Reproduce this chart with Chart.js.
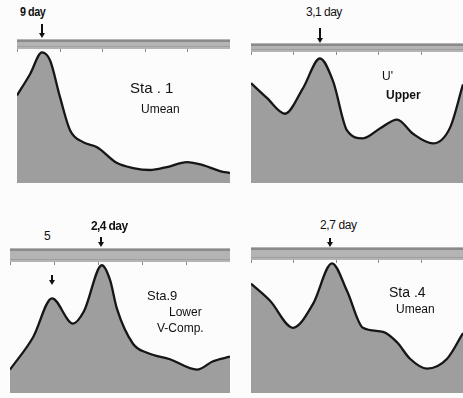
<!DOCTYPE html>
<html><head><meta charset="utf-8">
<script src="https://cdn.jsdelivr.net/npm/chart.js@4"></script>
<style>
html,body{margin:0;padding:0;background:#fcfcfc;width:463px;height:398px;overflow:hidden;position:relative;font-family:"Liberation Sans","DejaVu Sans",sans-serif;color:#111}
canvas{position:absolute}
.t{position:absolute;white-space:nowrap;line-height:1}
.ar{position:absolute;width:2px;background:#111}
.ar::after{content:"";position:absolute;left:-2px;bottom:-4px;border-left:3px solid transparent;border-right:3px solid transparent;border-top:5px solid #111}
</style></head><body>
<canvas id="c1" width="213" height="144" style="left:17px;top:39px"></canvas>
<canvas id="c2" width="212" height="140" style="left:251px;top:43px"></canvas>
<canvas id="c3" width="220" height="145" style="left:10px;top:248px"></canvas>
<canvas id="c4" width="212" height="146" style="left:251px;top:247px"></canvas>

<div class="t" style="left:20px;top:6px;font-size:12px;letter-spacing:-0.5px;font-weight:bold;transform:scaleX(0.9);transform-origin:left">9 day</div>
<div class="ar" style="left:41px;top:24px;height:10px"></div>
<div class="t" style="left:130px;top:80px;font-size:15px">Sta . 1</div>
<div class="t" style="left:141px;top:103px;font-size:12px">Umean</div>

<div class="t" style="left:306px;top:6px;font-size:12px;letter-spacing:-0.5px">3,1 day</div>
<div class="ar" style="left:319px;top:28px;height:11px"></div>
<div class="t" style="left:382px;top:70px;font-size:12px">U'</div>
<div class="t" style="left:386px;top:89px;font-size:12px;font-weight:bold">Upper</div>

<div class="t" style="left:44px;top:230px;font-size:12px">5</div>
<div class="ar" style="left:51px;top:275px;height:6px"></div>
<div class="t" style="left:91px;top:220px;font-size:12px;font-weight:bold;letter-spacing:-0.6px">2,4 day</div>
<div class="ar" style="left:100px;top:237px;height:6px"></div>
<div class="t" style="left:147px;top:289px;font-size:13px">Sta.9</div>
<div class="t" style="left:169px;top:306px;font-size:12px">Lower</div>
<div class="t" style="left:157px;top:322px;font-size:12px">V-Comp.</div>

<div class="t" style="left:320px;top:219px;font-size:12px;letter-spacing:-0.4px">2,7 day</div>
<div class="ar" style="left:329px;top:238px;height:5px"></div>
<div class="t" style="left:389px;top:285px;font-size:14px">Sta .4</div>
<div class="t" style="left:396px;top:303px;font-size:12px">Umean</div>

<script>
// Frequency axis (arbitrary units 0-100 across each panel) and spectral density (relative)
const freq1 = [0, 6.1, 11.7, 15.5, 20.2, 24.9, 31, 37.6, 47, 54.5, 62.4, 70.4, 79.8, 87.3, 95.3, 100];
const spec1 = [66, 82, 98.5, 92.5, 64.7, 39.8, 30.8, 27, 15, 11.3, 9.8, 12, 15.8, 13.5, 9, 7.5];

const freq2 = [0, 7.5, 16, 24.5, 32.5, 38.7, 45.3, 52.8, 60.8, 68.9, 76.4, 85.8, 93.9, 100];
const spec2 = [77, 65.6, 53.4, 73, 96, 78.6, 40.5, 34.4, 42, 48.9, 38, 30.5, 42.7, 76];

const freq3 = [0, 10.5, 19.1, 28.6, 33.6, 41.8, 45.5, 48.6, 55.9, 62.3, 72.7, 85, 92.3, 100];
const spec3 = [18, 43, 73, 53.5, 63, 98.5, 87, 65, 38, 31, 26, 18, 24.5, 28];

const freq4 = [0, 9, 19.8, 29.2, 38.2, 45.3, 52.8, 62.3, 68.9, 75, 83, 92.5, 100];
const spec4 = [83, 70, 49.5, 67.5, 98.5, 77.5, 49.5, 46.5, 38.5, 26, 18.5, 26, 45.5];

const bandPlugin = {
  id: 'band',
  beforeDraw(chart) {
    const {ctx, chartArea: a} = chart;
    ctx.save();
    ctx.fillStyle = '#b4b4b4';
    ctx.fillRect(a.left, 0, a.right - a.left, a.top);
    ctx.fillStyle = '#8a8a8a';
    ctx.fillRect(a.left, 1, a.right - a.left, 2);
    ctx.fillStyle = '#9e9e9e';
    ctx.fillRect(a.left, a.top - 3, a.right - a.left, 1);
    const xs = chart.scales.x;
    ctx.strokeStyle = '#8a8a8a';
    ctx.lineWidth = 1;
    xs.ticks.forEach(t => {
      const px = Math.round(xs.getPixelForValue(t.value)) + 0.5;
      ctx.beginPath(); ctx.moveTo(px, a.top); ctx.lineTo(px, a.top + 3); ctx.stroke();
    });
    ctx.restore();
  }
};

function make(id, xs, ys, bandH) {
  new Chart(document.getElementById(id), {
    type: 'line',
    data: { datasets: [{
      data: xs.map((x, i) => ({x, y: ys[i]})),
      borderColor: '#161616', borderWidth: 2.3,
      backgroundColor: '#9e9e9e',
      fill: 'origin', pointRadius: 0,
      cubicInterpolationMode: 'monotone'
    }]},
    options: {
      responsive: false, animation: false, devicePixelRatio: 1,
      layout: { padding: { top: bandH, left: 0, right: 0, bottom: 0 } },
      plugins: { legend: { display: false }, tooltip: { enabled: false } },
      scales: {
        x: { type: 'linear', min: 0, max: 100, display: false, ticks: { stepSize: 10 } },
        y: { min: 0, max: 101, display: false }
      }
    },
    plugins: [bandPlugin]
  });
}
make('c1', freq1, spec1, 10);
make('c2', freq2, spec2, 9);
make('c3', freq3, spec3, 14);
make('c4', freq4, spec4, 13);
</script>
</body></html>
